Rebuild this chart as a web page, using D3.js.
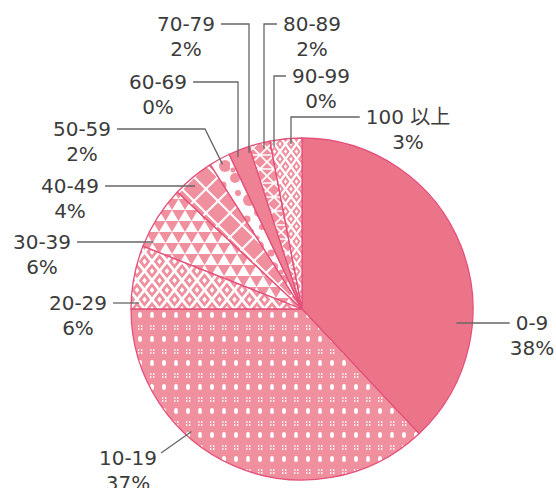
<!DOCTYPE html>
<html>
<head>
<meta charset="utf-8">
<script src="https://cdn.jsdelivr.net/npm/d3@7"></script>
<style>
  body { margin: 0; background: #fff; }
  svg { display: block; }
  .lbl { font-family: "DejaVu Sans", "Noto Sans CJK JP", sans-serif; font-size: 20px; fill: #3c3c3c; }
  .leader { fill: none; stroke: #666; stroke-width: 1.3; }
</style>
</head>
<body>
<svg id="viz" width="556" height="488"></svg>
<script>
// --- Data ---
const ageGroups = ["0-9", "10-19", "20-29", "30-39", "40-49", "50-59", "60-69", "70-79", "80-89", "90-99", "100 以上"];
const shares = [38, 37, 6, 6, 4, 2, 0, 2, 2, 0, 3];
const pctLabels = shares.map(d => d + "%");

// --- Layout ---
const CONFIG = {
    cx: 302,
    cy: 309,
    radius: 171,
    solid: "#ec7489",
    tint: "#f0909f",
    edge: "#e4517b"
};

// label text position (centre x, first baseline) and how its leader runs
const labelLayout = [
    { x: 532, y: 330, leader: "h", r: 155 },
    { x: 128, y: 465, leader: "d", r: 165, at: 0.64 },
    { x: 78,  y: 310, leader: "h", r: 163 },
    { x: 42,  y: 249, leader: "h", r: 163 },
    { x: 70,  y: 193, leader: "h", r: 163 },
    { x: 82,  y: 136, leader: "d", r: 165, knee: 205 },
    { x: 158, y: 89,  leader: "v", r: 165, vx: 238 },
    { x: 186, y: 31,  leader: "v", r: 165, vx: 249 },
    { x: 312, y: 31,  leader: "v", r: 165, vx: 264 },
    { x: 321, y: 83,  leader: "v", r: 165, vx: 274 },
    { x: 408, y: 124, leader: "v", r: 165, vx: 291 }
];

const svg = d3.select("#viz");
const defs = svg.append("defs");

// --- Patterns ---
function pattern(id, w, h, bg) {
    const p = defs.append("pattern")
        .attr("id", id)
        .attr("patternUnits", "userSpaceOnUse")
        .attr("width", w).attr("height", h);
    p.append("rect").attr("width", w).attr("height", h).attr("fill", bg);
    return p;
}

// dots + split dots
const pDots = pattern("p-dots", 12, 24, CONFIG.tint);
pDots.append("ellipse").attr("cx", 6).attr("cy", 6).attr("rx", 2).attr("ry", 3).attr("fill", "#fff");
[[4, 16], [7, 16], [4, 19], [7, 19]].forEach(([x, y]) =>
    pDots.append("rect").attr("x", x).attr("y", y).attr("width", 1.4).attr("height", 2).attr("fill", "#fff").attr("opacity", 0.85));

// diamond lattice
function diamonds(id, w, h, sw, dot) {
    const p = pattern(id, w, h, CONFIG.tint);
    const pts = (cx, cy) => `${cx},${cy - h / 2} ${cx + w / 2},${cy} ${cx},${cy + h / 2} ${cx - w / 2},${cy}`;
    p.append("polygon").attr("points", pts(w / 2, h / 2)).attr("fill", "none").attr("stroke", "#fff").attr("stroke-width", sw);
    [[0, 0], [w, 0], [0, h], [w, h]].forEach(([x, y]) =>
        p.append("polygon").attr("points", pts(x, y)).attr("fill", "none").attr("stroke", "#fff").attr("stroke-width", sw));
    [[w / 2, h / 2], [0, 0], [w, 0], [0, h], [w, h]].forEach(([x, y]) =>
        p.append("polygon")
            .attr("points", `${x},${y - dot} ${x + dot * 0.75},${y} ${x},${y + dot} ${x - dot * 0.75},${y}`)
            .attr("fill", "#fff"));
}
diamonds("p-diam", 15, 19, 2.4, 3);
diamonds("p-diam2", 11, 15, 2, 2.2);

// triangles
const pTri = pattern("p-tri", 13, 22, CONFIG.tint);
pTri.append("polygon").attr("points", "0,11 6.5,0 13,11").attr("fill", "#fff");
pTri.append("polygon").attr("points", "-6.5,22 0,11 6.5,22").attr("fill", "#fff");
pTri.append("polygon").attr("points", "6.5,22 13,11 19.5,22").attr("fill", "#fff");

// diagonal grid
const pGrid = pattern("p-grid", 24, 24, CONFIG.tint);
pGrid.append("path").attr("d", "M0,0L24,24M24,0L0,24M-12,12L12,-12M12,36L36,12M-12,12L12,36M12,-12L36,12")
    .attr("stroke", "#fff").attr("stroke-width", 2);

// polka circles on white
const pPolka = pattern("p-polka", 24, 34, "#fff");
[[5, 5, 5], [17, 12, 3.5], [8, 20, 3], [19, 27, 6], [3, 31, 2.5]].forEach(([x, y, r]) =>
    pPolka.append("circle").attr("cx", x).attr("cy", y).attr("r", r).attr("fill", CONFIG.tint));

// triangles of white lines
const pLines = pattern("p-lines", 14, 14, CONFIG.tint);
pLines.append("path").attr("d", "M0,0L14,14M14,0L0,14M0,14L14,14M0,0L14,0")
    .attr("stroke", "#fff").attr("stroke-width", 1.6);

const fills = [
    CONFIG.solid, "url(#p-dots)", "url(#p-diam)", "url(#p-tri)", "url(#p-grid)",
    "url(#p-polka)", CONFIG.tint, "#ee8294", "url(#p-lines)", CONFIG.tint, "url(#p-diam2)"
];

// --- Pie ---
const pie = d3.pie().sort(null).value(d => d);
const arcs = pie(shares);
const arc = d3.arc().innerRadius(0).outerRadius(CONFIG.radius);

const g = svg.append("g").attr("transform", `translate(${CONFIG.cx},${CONFIG.cy})`);

g.selectAll("path.slice")
    .data(arcs)
    .join("path")
    .attr("class", "slice")
    .attr("d", arc)
    .attr("fill", (d, i) => fills[i])
    .attr("stroke", CONFIG.edge)
    .attr("stroke-width", 1.3)
    .attr("stroke-linejoin", "round");

// --- Labels & leaders ---
const labels = svg.append("g");

function polar(angle, r) {
    return [CONFIG.cx + r * Math.sin(angle), CONFIG.cy - r * Math.cos(angle)];
}

arcs.forEach((a, i) => {
    const L = labelLayout[i];
    const t = labels.append("text").attr("class", "lbl")
        .attr("x", L.x).attr("y", L.y).attr("text-anchor", "middle")
        .text(ageGroups[i]);
    labels.append("text").attr("class", "lbl")
        .attr("x", L.x).attr("y", L.y + 25).attr("text-anchor", "middle")
        .text(pctLabels[i]);

    const w = t.node().getComputedTextLength();
    const ly = L.y - 7;
    const gap = 6;
    let pts;

    if (L.leader === "h") {
        const dy = ly - CONFIG.cy;
        const dx = Math.sqrt(L.r * L.r - dy * dy);
        if (L.x > CONFIG.cx) {
            pts = [[L.x - w / 2 - gap, ly], [CONFIG.cx + dx, ly]];
        } else {
            pts = [[L.x + w / 2 + gap, ly], [CONFIG.cx - dx, ly]];
        }
    } else if (L.leader === "v") {
        const dx = L.vx - CONFIG.cx;
        const py = CONFIG.cy - Math.sqrt(L.r * L.r - dx * dx);
        const sx = L.x < L.vx ? L.x + w / 2 + gap : L.x - w / 2 - gap;
        pts = [[sx, ly], [L.vx, ly], [L.vx, py]];
    } else {
        const f = L.at === undefined ? 0.5 : L.at;
        const ang = a.startAngle + (a.endAngle - a.startAngle) * f;
        const end = polar(ang, L.r);
        if (L.knee) {
            pts = [[L.x + w / 2 + gap, ly], [L.knee, ly], end];
        } else {
            pts = [[L.x + w / 2 + 4, L.y - 12], end];
        }
    }

    labels.append("path").attr("class", "leader").attr("d", d3.line()(pts));
});
</script>
</body>
</html>
